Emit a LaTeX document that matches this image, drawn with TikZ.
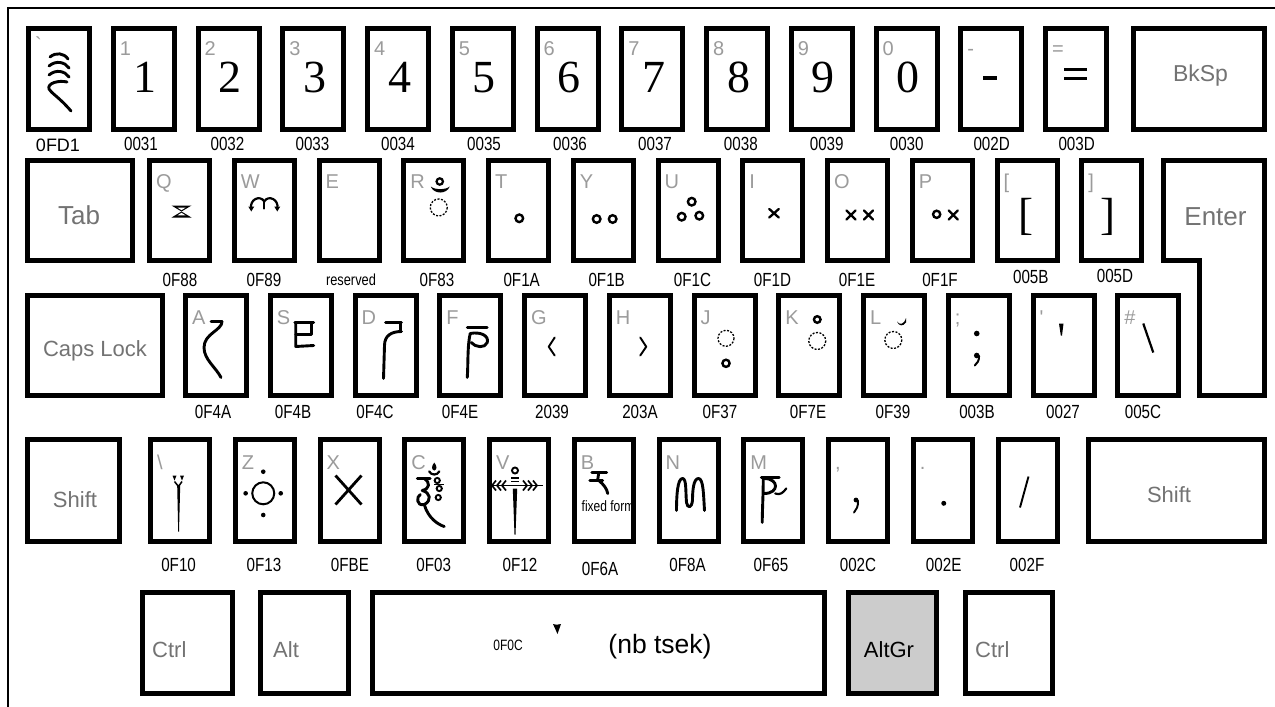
\documentclass[tikz,border=0pt]{standalone}
\usepackage{fontspec}
\usetikzlibrary{calc}
\newfontfamily\sansf{Liberation Sans}
\newfontfamily\narrowf{Liberation Sans}[FakeStretch=0.8]
\newfontfamily\seriff{Liberation Serif}
\definecolor{lblgray}{RGB}{155,155,155}
\definecolor{keygray}{RGB}{115,115,115}
\definecolor{altgrfill}{RGB}{204,204,204}
\newcommand\fs[1]{\fontsize{#1}{#1}\selectfont}
\newcommand\keyb[5]{\node[keybox, minimum width={(#4-5)*1pt}, minimum height={(#5-5)*1pt}] (#1) at ({#2+#4/2},{#3+#5/2}) {};}
\tikzset{
 keybox/.style={draw, line width=5pt, fill=white, inner sep=0pt},
 lbl/.style={text=lblgray, font=\sansf\fs{20}, inner sep=0pt, anchor=base west},
 code/.style={font=\narrowf\fs{19}, inner sep=0pt, anchor=base},
 bigch/.style={font=\seriff\fs{46}, inner sep=0pt, anchor=base},
 ktext/.style={text=keygray, inner sep=0pt, anchor=base},
 gl/.style={line width=2.9pt, line cap=round, line join=round},
 dotring/.style={line width=1.3pt, dash pattern=on 2pt off 1.5pt},
 ring/.style={line width=2.4pt},
}
\begin{document}
\begin{tikzpicture}[x=1pt,y=-1pt]
\useasboundingbox (0,0) rectangle (1275,707);
\draw[line width=1.5pt] (8,707) -- (8,8) -- (1275,8);
% ---------------- row 1
\foreach \i in {0,...,12} {\keyb{a\i}{26+84.75*\i}{26}{66}{106}}
\keyb{bksp}{1131}{26}{136}{106}
\node[ktext, font=\sansf\fs{23}] (bkspt) at (1200.5,81.7) {BkSp};
\node[lbl] (la0) at (35,51) {`};
\foreach \i/\t in {1/1,2/2,3/3,4/4,5/5,6/6,7/7,8/8,9/9,10/0,11/-,12/=}
  {\node[lbl] (la\i) at ({26+84.75*\i+9},55) {\t};}
\foreach \i/\t in {1/1,2/2,3/3,4/4,5/5,6/6,7/7,8/8,9/9,10/0}
  {\node[bigch] (ba\i) at ({59+84.75*\i+1.5},92.5) {\t};}
\fill (983,76) rectangle (997,79.5);
\fill (1064,68.3) rectangle (1087,70.8);
\fill (1064,77.3) rectangle (1087,79.8);
\node[code, font=\sansf\fs{18}] (ca0) at (58,151) {0FD1};
\foreach \x/\c [count=\n] in {141/0031,227.5/0032,312.5/0033,398/0034,484/0035,570/0036,655/0037,740.8/0038,826.7/0039,906.7/0030,991.7/002D,1076.7/003D}
  {\node[code] (ca\n) at (\x,150) {\c};}
% glyph 0FD1
\begin{scope}[shift={(a0.center)}]
\draw[gl] (-9,-22) .. controls (-3,-27) and (5,-26) .. (9,-20);
\draw[gl] (-10,-13) .. controls (-3,-19) and (6,-17) .. (10,-11);
\draw[gl] (-10,-4) .. controls (-3,-10) and (6,-8) .. (10,-2);
\draw[gl] (8,3) .. controls (0,1) and (-12,4) .. (-10,10) .. controls (-8,14) and (0,18) .. (12,32);
\end{scope}
% ---------------- row 2
\keyb{tab}{25}{158}{110}{105}
\node[ktext, font=\sansf\fs{26}] (tabt) at (79,224) {Tab};
\foreach \j in {0,...,11} {\keyb{b\j}{147+84.75*\j}{158}{65}{105}}
\draw[line width=5pt, line join=miter] (1163.5,160.5) -- (1264.5,160.5) -- (1264.5,395.5) -- (1199.5,395.5) -- (1199.5,260.5) -- (1163.5,260.5) -- cycle;
\node[ktext, font=\sansf\fs{26}] (entert) at (1215.5,225) {Enter};
\foreach \j/\t in {0/Q,1/W,2/E,3/R,4/T,5/Y,6/U,7/I,8/O,9/P,10/[,11/]}
  {\node[lbl] (lb\j) at ({147+84.75*\j+9},188) {\t};}
\node[bigch, font=\seriff\fs{45}] (bb10) at (1026,229) {[};
\node[bigch, font=\seriff\fs{45}] (bb11) at (1108,229) {]};
\foreach \x/\c [count=\n] in {180/0F88,264/0F89,437/0F83,521.7/0F1A,606.7/0F1B,692.5/0F1C,772.5/0F1D,857/0F1E,940/0F1F}
  {\node[code] (cb\n) at (\x,286) {\c};}
\node[code, font=\narrowf\fs{16}] (cbres) at (351,285) {reserved};
\node[code] (cb10) at (1030.8,283) {005B};
\node[code] (cb11) at (1115,282) {005D};
% Q 0F88
\begin{scope}[shift={(b0.center)}]
\fill (-8,-5) -- (12,-5) -- (2,1) -- cycle;
\fill (-8,7) -- (12,7) -- (2,1) -- cycle;
\fill[white] (-2,-2.8) -- (6,-2.8) -- (2,-0.3) -- cycle;
\fill[white] (-2,4.8) -- (6,4.8) -- (2,2.3) -- cycle;
\end{scope}
% W 0F89
\begin{scope}[shift={(b1.center)}]
\draw[gl, line width=2.2pt] (-13,-2) .. controls (-15,-11) and (-4,-16) .. (0,-9) .. controls (4,-16) and (15,-11) .. (13,-2);
\draw[gl, line width=2.2pt] (0,-9) -- (0,-2);
\fill (-16,-4) -- (-10,-4) -- (-13,1) -- cycle;
\fill (16,-4) -- (10,-4) -- (13,1) -- cycle;
\end{scope}
% R 0F83
\begin{scope}[shift={(b3.center)}]
\draw[ring, line width=2.2pt] (6,-29) circle (3.2);
\fill (-3,-24) .. controls (0,-16) and (13,-16) .. (16,-24) .. controls (12,-20.5) and (1,-20.5) .. cycle;
\draw[dotring] (5,-3) circle (8.5);
\end{scope}
% T Y U 0F1A-0F1C
\draw[ring] ($(b4.center)+(0.8,7.8)$) circle (3.8);
\draw[ring] ($(b5.center)+(-6.6,8.5)$) circle (3.8);
\draw[ring] ($(b5.center)+(9.4,8.5)$) circle (3.8);
\draw[ring] ($(b6.center)+(3.7,-8.8)$) circle (3.8);
\draw[ring] ($(b6.center)+(-6.3,6.2)$) circle (3.8);
\draw[ring] ($(b6.center)+(11.3,5.2)$) circle (3.8);
% I O P crosses
\begin{scope}[shift={(b7.center)}]
\draw[gl, line width=2.3pt] (-3.5,-1.5) -- (6,7) (6,-1.5) -- (-3.5,7);
\end{scope}
\begin{scope}[shift={(b8.center)}]
\draw[gl, line width=2.3pt] (-11,0) -- (-2,9) (-2,0) -- (-11,9);
\draw[gl, line width=2.3pt] (6.5,0) -- (15.5,9) (15.5,0) -- (6.5,9);
\end{scope}
\begin{scope}[shift={(b9.center)}]
\draw[ring] (-5.6,3.8) circle (3.6);
\draw[gl, line width=2.3pt] (6.5,0) -- (15.5,9) (15.5,0) -- (6.5,9);
\end{scope}
% ---------------- row 3
\keyb{caps}{25}{293}{140}{105}
\node[ktext, font=\sansf\fs{22}] (capst) at (95,356.7) {Caps Lock};
\foreach \k in {0,...,11} {\keyb{c\k}{183+84.75*\k}{293}{66}{105}}
\foreach \k/\t in {0/A,1/S,2/D,3/F,4/G,5/H,6/J,7/K,8/L,9/;,10/',11/\#}
  {\node[lbl] (lc\k) at ({183+84.75*\k+9},324) {\t};}
\foreach \x/\c [count=\n] in {213/0F4A,293/0F4B,375/0F4C,460/0F4E,552/2039,640/203A,720/0F37,808/0F7E,893/0F39,977/003B,1063/0027,1143/005C}
  {\node[code] (cc\n) at (\x,418) {\c};}
% A 0F4A
\begin{scope}[shift={(c0.center)}]
\draw[gl] (-5,-24) -- (6,-24);
\draw[gl] (6,-24) .. controls (6,-15) and (-12,-12) .. (-12,2) .. controls (-12,14) and (0,22) .. (5,32);
\end{scope}
% S 0F4B
\begin{scope}[shift={(c1.center)}]
\draw[gl] (-6,-23) -- (13,-23);
\draw[gl] (-5,-23) -- (-5,1) -- (13,0);
\draw[gl] (-5,-11) -- (11,-11) -- (11,-23);
\end{scope}
% D 0F4C
\begin{scope}[shift={(c2.center)}]
\draw[gl] (0,-23) -- (16,-23);
\draw[gl] (15,-23) -- (15,-14);
\draw[gl] (16,-14) .. controls (6,-14) and (-1,-10) .. (-1,0) -- (-2,33);
\end{scope}
% F 0F4E
\begin{scope}[shift={(c3.center)}]
\draw[gl] (-3,-18) -- (17,-18);
\draw[gl] (0,-12) .. controls (10,-14) and (19,-10) .. (17,-3) .. controls (15,3) and (5,2) .. (1,-3);
\draw[gl] (0,-12) .. controls (-3,0) and (-2,20) .. (-3,32);
\end{scope}
% G H angle quotes
\draw[gl, line width=1.9pt] ($(c4.center)+(-0.3,-8)$) -- ($(c4.center)+(-6.3,1.2)$) -- ($(c4.center)+(-0.3,10)$);
\draw[gl, line width=1.9pt] ($(c5.center)+(0.5,-8)$) -- ($(c5.center)+(6.5,1.2)$) -- ($(c5.center)+(0.5,10)$);
% J 0F37
\draw[dotring] ($(c6.center)+(1.5,-7.2)$) circle (8);
\draw[ring] ($(c6.center)+(1.5,17.8)$) circle (3.6);
% K 0F7E
\draw[ring] ($(c7.center)+(8,-26)$) circle (3.3);
\draw[dotring] ($(c7.center)+(8,-4.5)$) circle (8.5);
% L 0F39
\begin{scope}[shift={(c8.center)}]
\fill (3,-24) .. controls (6,-20) and (10,-21) .. (12,-27.5) -- (12,-23) .. controls (9,-19) and (5,-19) .. cycle;
\draw[dotring] (-0.7,-5.5) circle (8.5);
\end{scope}
% ; ' backslash
\begin{scope}[shift={(c9.center)}]
\fill (-2,-12) circle (2.8);
\fill (-2,10) circle (2.8);
\draw[gl, line width=2pt] (0.3,10.5) .. controls (0.5,15) and (-1.5,18) .. (-4,20);
\end{scope}
\fill ($(c10.center)+(-4.5,-22)$) -- ($(c10.center)+(0,-22)$) -- ($(c10.center)+(-1.5,-10)$) -- ($(c10.center)+(-2.7,-10)$) -- cycle;
\draw[line width=2.2pt] ($(c11.center)+(-5,-22)$) -- ($(c11.center)+(5,7)$);
% ---------------- row 4
\keyb{lshift}{25}{437}{97}{107}
\keyb{rshift}{1086}{437}{181}{107}
\node[ktext, font=\sansf\fs{22}] (lshiftt) at (75,507) {Shift};
\node[ktext, font=\sansf\fs{22}] (rshiftt) at (1169,502) {Shift};
\foreach \m in {0,...,10} {\keyb{d\m}{148+84.75*\m}{437}{64}{107}}
\foreach \m/\t in {0/\textbackslash,1/Z,2/X,3/C,4/V,5/B,6/N,7/M,8/{,},9/.,10//}
  {\node[lbl] (ld\m) at ({148+84.75*\m+9},469) {\t};}
\foreach \x/\c [count=\n] in {178.6/0F10,264/0F13,350/0FBE,433.7/0F03,520/0F12,687.6/0F8A,771/0F65,858/002C,943.7/002E,1027/002F}
  {\node[code] (cd\n) at (\x,571) {\c};}
\node[code] (cd6a) at (600,575) {0F6A};
% \ 0F10
\begin{scope}[shift={(d0.center)}]
\fill (-7.5,-15) -- (-3.5,-15) -- (-5.5,-10) -- cycle;
\fill (0,-15) -- (4,-15) -- (2,-10) -- cycle;
\draw[line width=1.5pt] (-5.5,-9) -- (-1.5,-4) -- (2,-9);
\fill (-2.8,-5) -- (0.2,-5) -- (-1,41) -- (-1.8,41) -- cycle;
\end{scope}
% Z 0F13
\begin{scope}[shift={(d1.center)}]
\draw[line width=2pt] (-1.5,2.8) circle (11);
\fill (-19.1,2.8) circle (2.3) (16,2.8) circle (2.3) (-1.5,-18.8) circle (2.3) (-1.5,24.5) circle (2.3);
\end{scope}
% X 0FBE
\draw[line width=2.8pt] ($(d2.center)+(-14,-15)$) -- ($(d2.center)+(12,14)$) ($(d2.center)+(12,-15)$) -- ($(d2.center)+(-14,14)$);
% C 0F03
\begin{scope}[shift={(d3.center)}]
\fill (0,-28) .. controls (3,-24) and (3,-21) .. (0,-20) .. controls (-3,-21) and (-3,-24) .. cycle;
\draw[gl, line width=2.2pt] (-5,-19) .. controls (-3,-15) and (3,-15) .. (5,-19);
\draw[gl] (-17,-12) -- (-4,-12);
\draw[gl] (-10,-12) .. controls (-4,-8) and (-4,-2) .. (-12,0) .. controls (-4,2) and (-2,10) .. (-10,14) .. controls (-18,16) and (-18,6) .. (-14,4);
\draw[gl] (-10,14) .. controls (-6,28) and (4,34) .. (10,36);
\draw[line width=1.9pt] (3,-10) circle (2.6) (5,-2) circle (2.6) (4,7) circle (2.6);
\draw[line width=1.9pt] (0,-6) -- (10,-6);
\end{scope}
% V 0F12
\begin{scope}[shift={(d4.center)}]
\draw[line width=1.7pt] (-31,-5) -- (24,-5);
\foreach \q in {-27,-22,-17} {\draw[line width=1.7pt] (\q+4,-10) -- (\q,-5) -- (\q+4,0);}
\foreach \q in {8,13,18} {\draw[line width=1.7pt] (\q-4,-10) -- (\q,-5) -- (\q-4,0);}
\draw[line width=1.9pt] (-4,-20) circle (3);
\draw[line width=1.9pt] (-8,-12.5) -- (0,-12.5) (-8,-9) -- (0,-9);
\fill (-6.2,-2) -- (-1.8,-2) -- (-3.5,44) -- (-4.5,44) -- cycle;
\end{scope}
% B 0F6A
\begin{scope}[shift={(d5.center)}]
\draw[gl] (-12,-18) -- (3,-18);
\draw[gl] (-5,-18) -- (-6,-11);
\draw[gl] (-14,-10) -- (-1,-10);
\draw[gl] (-5,-10) .. controls (0,-6) and (3,-2) .. (4,3);
\end{scope}
\node[font=\narrowf\fs{15}, inner sep=0pt, anchor=base] (ff) at (608,511.7) {fixed form};
% N 0F8A
\begin{scope}[shift={(d6.center)}]
\draw[gl] (-12,20) .. controls (-12,5) and (-11,-12) .. (-6,-12) .. controls (-2,-12) and (-3,0) .. (-2,12) .. controls (-1,18) and (3,18) .. (4,10) .. controls (4,0) and (5,-12) .. (10,-12) .. controls (15,-12) and (15,5) .. (16,20);
\end{scope}
% M 0F65
\begin{scope}[shift={(d7.center)}]
\draw[gl] (-12,-13) -- (6,-13);
\draw[gl] (-10,-12) .. controls (-10,5) and (-11,20) .. (-11,32);
\draw[gl] (-9,-12) .. controls (6,-12) and (6,3) .. (-9,3);
\draw[gl, line width=2.2pt] (2,3) .. controls (7,5) and (10,2) .. (13,-2);
\end{scope}
% , . /
\begin{scope}[shift={(d8.center)}]
\fill (-2,9.5) circle (2.4);
\draw[gl, line width=1.9pt] (0,10) .. controls (0.3,16) and (-1.5,19) .. (-4,22);
\end{scope}
\fill ($(d9.center)+(1,12.8)$) circle (2.5);
\draw[line width=1.9pt] ($(d10.center)+(1,-14)$) -- ($(d10.center)+(-7.5,17)$);
% ---------------- row 5
\keyb{lctrl}{140}{590}{95}{106}
\keyb{alt}{258}{590}{93}{106}
\keyb{space}{370}{590}{457}{106}
\node[keybox, fill=altgrfill, minimum width=88pt, minimum height=101pt] (altgr) at (892.5,643) {};
\keyb{rctrl}{963}{590}{92}{106}
\node[ktext, font=\sansf\fs{22}, anchor=base west] (lctrlt) at (152,657) {Ctrl};
\node[ktext, font=\sansf\fs{22}, anchor=base west] (altt) at (273,657) {Alt};
\node[font=\sansf\fs{22}, anchor=base, inner sep=0pt] (altgrt) at (889,657) {AltGr};
\node[ktext, font=\sansf\fs{22}, anchor=base west] (rctrlt) at (975,657) {Ctrl};
\node[font=\sansf\fs{26.5}, anchor=base, inner sep=0pt] (nbt) at (660,653) {(nb tsek)};
\node[font=\narrowf\fs{15}, anchor=base, inner sep=0pt] (spcode) at (508,650) {0F0C};
\fill (553,624) .. controls (555,625) and (558,625) .. (561,624) -- (557.5,634) -- cycle;
\end{tikzpicture}
\end{document}
